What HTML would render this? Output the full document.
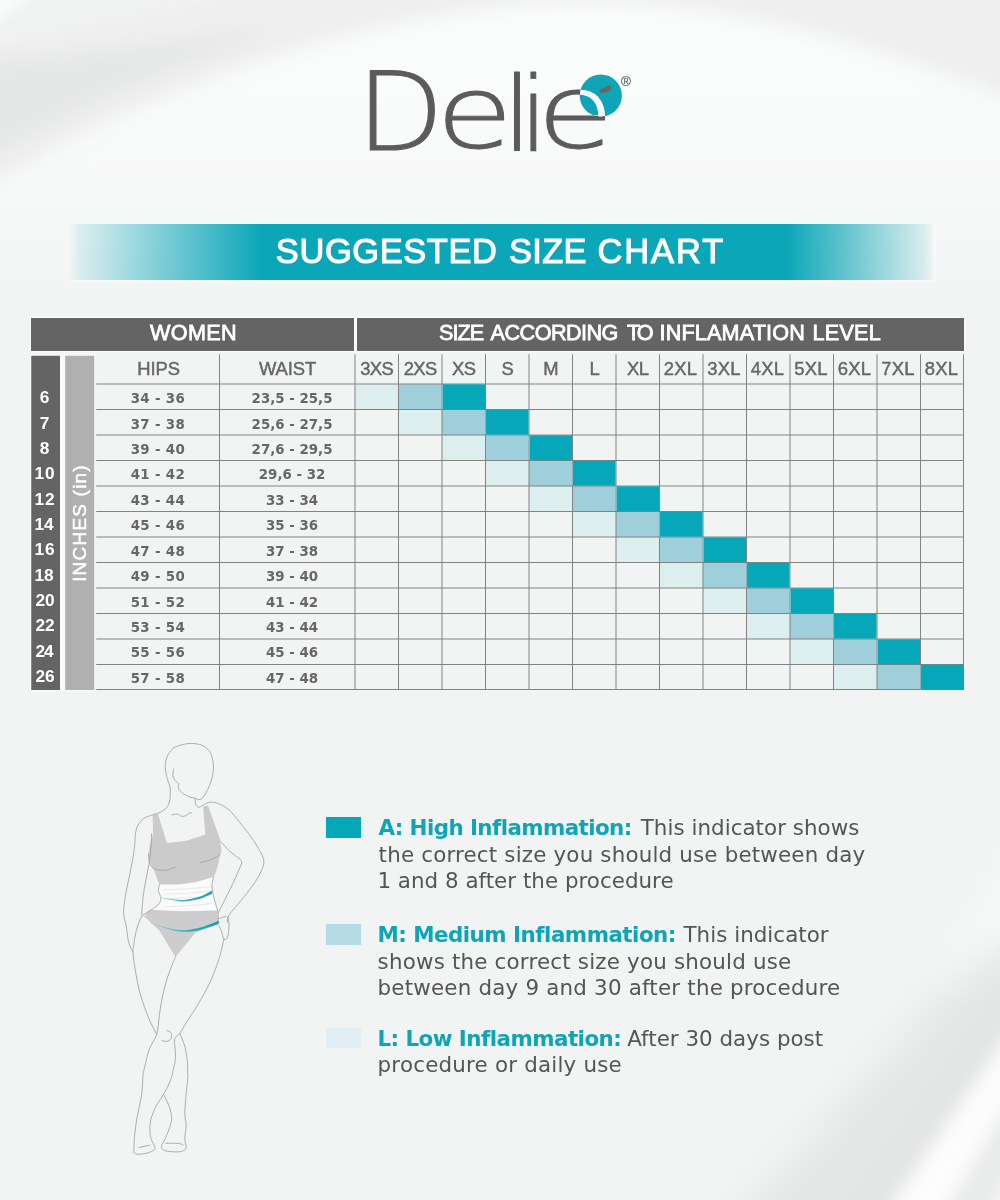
<!DOCTYPE html>
<html lang="en">
<head>
<meta charset="utf-8">
<title>Delie - Suggested Size Chart</title>
<meta name="viewport" content="width=1000">
<style>
*{box-sizing:border-box}
html,body{margin:0;padding:0;background:#f2f4f4}
body{width:1000px;height:1200px;overflow:hidden;font-family:"Liberation Sans",sans-serif;color:#676767}
.page{position:relative;width:1000px;height:1200px;overflow:hidden;background:#f2f4f4}
.abs,.page>*{position:absolute}
svg{display:block;overflow:visible}
/* text helper: the element's top is the BASELINE; line-height:0 centres the line box on top */
.t{position:absolute;white-space:nowrap;line-height:0;transform-origin:0 0}
.c{transform:translateX(-50%)}
.rot{position:absolute;white-space:nowrap;line-height:1;transform:translate(-50%,-50%) rotate(-90deg)}
.m{-webkit-text-stroke:.45px currentColor}
.sb{-webkit-text-stroke:.8px currentColor}
.xb{-webkit-text-stroke:1.1px currentColor}
.lib{font-family:"Liberation Sans",sans-serif}
.dv{font-family:"DejaVu Sans","Liberation Sans",sans-serif}
.b{font-weight:700}
.w{color:#fff}
.teal{color:#0fa4b6}
.banner{left:69px;top:223.5px;width:865px;height:56.5px;margin:0;font-weight:400;box-shadow:0 0 3px 1.5px rgba(255,255,255,.6)}
.bar{background:#646464;box-shadow:0 0 1.5px 1px rgba(255,255,255,.75)}
</style>
</head>
<body>
<main class="page">
<svg class="bg" style="left:0;top:0" width="1000" height="1200" viewBox="0 0 1000 1200" aria-hidden="true">
<defs>
<filter id="b4" x="-30%" y="-30%" width="160%" height="160%"><feGaussianBlur stdDeviation="4"/></filter>
<filter id="b8" x="-30%" y="-30%" width="160%" height="160%"><feGaussianBlur stdDeviation="9"/></filter>
<filter id="b16" x="-30%" y="-30%" width="160%" height="160%"><feGaussianBlur stdDeviation="18"/></filter>
<linearGradient id="dome" x1="0" y1="0" x2="0" y2="1"><stop offset="0" stop-color="#fbfcfc" stop-opacity="1"/><stop offset=".55" stop-color="#f9fafa" stop-opacity=".85"/><stop offset="1" stop-color="#f4f6f6" stop-opacity="0"/></linearGradient>
</defs>
<path d="M-30 60 L70 -30 L1030 -30 L1030 110 C860 40 700 -6 520 8 C300 30 120 110 -30 200Z" fill="#efefef" filter="url(#b8)"/>
<path d="M-30 200 C120 110 300 30 520 8 C700 -6 860 40 1030 110 L1030 330 L-30 330Z" fill="url(#dome)" filter="url(#b8)"/>
<path d="M-30 62 L-30 170 C70 112 170 66 290 26 C200 40 90 50 -30 62Z" fill="#e6e7e7" filter="url(#b8)"/>
<path d="M-30 52 C60 30 200 8 330 -30 L80 -30Z" fill="#f1f2f2" filter="url(#b4)" opacity=".8"/>
<path d="M-30 -30 L56 -30 L-30 50Z" fill="#f9fafa" filter="url(#b4)"/>
<path d="M1030 900 L1030 1010 L865 1240 L720 1240Z" fill="#e5e6e6" filter="url(#b16)"/>
<g filter="url(#b8)">
<path d="M1030 955 L1030 1003 L868 1240 L828 1240Z" fill="#e3e4e4"/>
<path d="M1030 1003 L1030 1066 L928 1240 L868 1240Z" fill="#fdfdfd"/>
<path d="M1030 1066 L1030 1128 L978 1240 L928 1240Z" fill="#e9eaea"/>
<path d="M1030 1128 L1030 1240 L978 1240Z" fill="#fafafa"/>
</g>
<path d="M1030 830 L1030 925 L935 985 Z" fill="#fafbfb" filter="url(#b16)" opacity=".8"/>
</svg>
<header class="brand" style="left:0;top:0;width:1000px;height:200px"><svg class="logo" style="position:absolute;left:0;top:0" width="1000" height="200" viewBox="0 0 1000 200" role="img" aria-label="Delie"><defs><radialGradient id="eg" gradientUnits="userSpaceOnUse" cx="600.8" cy="95.6" r="21.1" gradientTransform="matrix(0.79923 0 0 0.96963 -429.1061 -143.7478)"><stop offset="0" stop-color="#f6f8f8"/><stop offset=".985" stop-color="#f6f8f8"/><stop offset="1" stop-color="#5b5b5b"/></radialGradient></defs><circle cx="600.8" cy="95.6" r="21.1" fill="#10a4b7"/><g font-family="'DejaVu Sans',sans-serif" font-weight="200" font-size="100" stroke-width="0.95" stroke-linejoin="round"><text transform="matrix(1.1333 0 0 1.0860 356.46 149.68)" fill="#5b5b5b" stroke="#5b5b5b">D</text><text transform="matrix(1.2512 0 0 1.0210 435.9 148.27)" fill="#5b5b5b" stroke="#5b5b5b">e</text><text transform="matrix(1.0841 0 0 1.0400 502.33 151.01)" fill="#5b5b5b" stroke="#5b5b5b">l</text><text transform="matrix(1.0657 0 0 1.0348 518.94 150.71)" fill="#5b5b5b" stroke="#5b5b5b">i</text><text transform="matrix(1.2512 0 0 1.0313 536.9 148.25)" fill="url(#eg)" stroke="url(#eg)">e</text></g><rect x="599.7" y="87.2" width="12" height="4.6" rx="1.8" fill="#666" transform="rotate(-24 605.7 89.5)"/><text x="626" y="85.8" font-family="'Liberation Sans',sans-serif" font-size="13.5" fill="#6a6a6a" stroke="#6a6a6a" stroke-width=".25" text-anchor="middle">®</text></svg></header>
<h1 class="banner" style="background:linear-gradient(90deg,rgba(11,166,184,0) 0%,rgba(11,166,184,.1) 1.1%,#0ba6b8 22.3%,#0ba6b8 82.9%,rgba(11,166,184,.12) 98.9%,rgba(11,166,184,0) 100%)"><span class="t lib xb w" style="left:0;top:27.5px;font-size:34.4px"><span style="margin-left:206.85px;letter-spacing:0.64px">SUGGESTED</span> <span style="margin-left:1.97px;letter-spacing:0.33px">SIZE</span> <span style="margin-left:0.97px;letter-spacing:1.99px">CHART</span></span></h1>
<section class="chart" style="left:0;top:0;width:1000px;height:700px">
<div class="abs bar" style="left:31.25px;top:318.25px;width:322.25px;height:32.25px"><span class="t lib sb w" style="left:118.65px;top:14.25px;font-size:21.6px;letter-spacing:0.41px">WOMEN</span></div>
<div class="abs bar" style="left:356.75px;top:318.25px;width:607.25px;height:32.25px"><span class="t lib sb w" style="left:0;top:14.25px;font-size:21.6px"><span style="margin-left:82.25px;letter-spacing:-0.96px">SIZE</span> <span style="margin-left:1.46px;letter-spacing:-0.52px">ACCORDING</span> <span style="margin-left:3.03px;letter-spacing:-2.9px">TO</span> <span style="margin-left:2.9px;letter-spacing:0.16px">INFLAMATION</span> <span style="margin-left:1.44px;letter-spacing:0.3px">LEVEL</span></span></div>
<div class="abs" style="left:353.5px;top:318.25px;width:3.25px;height:32.25px;background:#fafbfb"></div>
<svg class="grid" style="left:0;top:0" width="1000" height="700" viewBox="0 0 1000 700" aria-hidden="true"><rect x="29.8" y="354.3" width="66" height="337.15" fill="#fafbfb" opacity=".8"/><rect x="31.25" y="355.75" width="28.75" height="334.25" fill="#646464"/><rect x="65.2" y="355.75" width="29.05" height="334.25" fill="#b0b0b0"/><rect x="355" y="384" width="43.5" height="25.5" fill="#dcefee"/><rect x="398.5" y="384" width="43.5" height="25.5" fill="#9ecfdb"/><rect x="398.5" y="409.5" width="43.5" height="25.5" fill="#dcefee"/><rect x="442" y="409.5" width="43.5" height="25.5" fill="#9ecfdb"/><rect x="442" y="435" width="43.5" height="25.5" fill="#dcefee"/><rect x="485.5" y="435" width="43.5" height="25.5" fill="#9ecfdb"/><rect x="485.5" y="460.5" width="43.5" height="25.5" fill="#dcefee"/><rect x="529" y="460.5" width="43.5" height="25.5" fill="#9ecfdb"/><rect x="529" y="486" width="43.5" height="25.5" fill="#dcefee"/><rect x="572.5" y="486" width="43.5" height="25.5" fill="#9ecfdb"/><rect x="572.5" y="511.5" width="43.5" height="25.5" fill="#dcefee"/><rect x="616" y="511.5" width="43.5" height="25.5" fill="#9ecfdb"/><rect x="616" y="537" width="43.5" height="25.5" fill="#dcefee"/><rect x="659.5" y="537" width="43.5" height="25.5" fill="#9ecfdb"/><rect x="659.5" y="562.5" width="43.5" height="25.5" fill="#dcefee"/><rect x="703" y="562.5" width="43.5" height="25.5" fill="#9ecfdb"/><rect x="703" y="588" width="43.5" height="25.5" fill="#dcefee"/><rect x="746.5" y="588" width="43.5" height="25.5" fill="#9ecfdb"/><rect x="746.5" y="613.5" width="43.5" height="25.5" fill="#dcefee"/><rect x="790" y="613.5" width="43.5" height="25.5" fill="#9ecfdb"/><rect x="790" y="639" width="43.5" height="25.5" fill="#dcefee"/><rect x="833.5" y="639" width="43.5" height="25.5" fill="#9ecfdb"/><rect x="833.5" y="664.5" width="43.5" height="25.5" fill="#dcefee"/><rect x="877" y="664.5" width="43.5" height="25.5" fill="#9ecfdb"/><g stroke="#828282" stroke-width="1" fill="none"><path d="M96.25 384H964M96.25 409.5H964M96.25 435H964M96.25 460.5H964M96.25 486H964M96.25 511.5H964M96.25 537H964M96.25 562.5H964M96.25 588H964M96.25 613.5H964M96.25 639H964M96.25 664.5H964M96.25 689.5H964M219.5 354.25V690M355 354.25V690M398.5 354.25V690M442 354.25V690M485.5 354.25V690M529 354.25V690M572.5 354.25V690M616 354.25V690M659.5 354.25V690M703 354.25V690M746.5 354.25V690M790 354.25V690M833.5 354.25V690M877 354.25V690M920.5 354.25V690M963.5 354.25V690"/></g><rect x="442.5" y="384.3" width="42.5" height="24.9" fill="#06a7b9"/><rect x="441.4" y="384.5" width="1.2" height="24.5" fill="#9ecfdb" opacity=".55"/><rect x="486" y="409.8" width="42.5" height="24.9" fill="#06a7b9"/><rect x="484.9" y="410" width="1.2" height="24.5" fill="#9ecfdb" opacity=".55"/><rect x="529.5" y="435.3" width="42.5" height="24.9" fill="#06a7b9"/><rect x="528.4" y="435.5" width="1.2" height="24.5" fill="#9ecfdb" opacity=".55"/><rect x="573" y="460.8" width="42.5" height="24.9" fill="#06a7b9"/><rect x="571.9" y="461" width="1.2" height="24.5" fill="#9ecfdb" opacity=".55"/><rect x="616.5" y="486.3" width="42.5" height="24.9" fill="#06a7b9"/><rect x="615.4" y="486.5" width="1.2" height="24.5" fill="#9ecfdb" opacity=".55"/><rect x="660" y="511.8" width="42.5" height="24.9" fill="#06a7b9"/><rect x="658.9" y="512" width="1.2" height="24.5" fill="#9ecfdb" opacity=".55"/><rect x="703.5" y="537.3" width="42.5" height="24.9" fill="#06a7b9"/><rect x="702.4" y="537.5" width="1.2" height="24.5" fill="#9ecfdb" opacity=".55"/><rect x="747" y="562.8" width="42.5" height="24.9" fill="#06a7b9"/><rect x="745.9" y="563" width="1.2" height="24.5" fill="#9ecfdb" opacity=".55"/><rect x="790.5" y="588.3" width="42.5" height="24.9" fill="#06a7b9"/><rect x="789.4" y="588.5" width="1.2" height="24.5" fill="#9ecfdb" opacity=".55"/><rect x="834" y="613.8" width="42.5" height="24.9" fill="#06a7b9"/><rect x="832.9" y="614" width="1.2" height="24.5" fill="#9ecfdb" opacity=".55"/><rect x="877.5" y="639.3" width="42.5" height="24.9" fill="#06a7b9"/><rect x="876.4" y="639.5" width="1.2" height="24.5" fill="#9ecfdb" opacity=".55"/><rect x="921" y="664.8" width="42.5" height="24.9" fill="#06a7b9"/><rect x="919.9" y="665" width="1.2" height="24.5" fill="#9ecfdb" opacity=".55"/></svg>
<div class="abs unit" style="left:65.5px;top:355.75px;width:28.75px;height:334.25px"><span class="rot lib m w" style="left:13.3px;top:167.25px;font-size:19px;letter-spacing:1.2px">INCHES (in)</span></div>
<div class="abs nums" style="left:31.25px;top:355.75px;width:28.75px;height:334.25px">
<span class="t lib b w c" style="left:13.35px;top:41.25px;font-size:17.3px;">6</span>
<span class="t lib b w c" style="left:13.35px;top:67.25px;font-size:17.3px;">7</span>
<span class="t lib b w c" style="left:13.35px;top:92.25px;font-size:17.3px;">8</span>
<span class="t lib b w" style="left:3.25px;top:117.25px;font-size:17.3px;letter-spacing:0.79px">10</span>
<span class="t lib b w" style="left:3.25px;top:143.25px;font-size:17.3px;letter-spacing:0.79px">12</span>
<span class="t lib b w" style="left:3.25px;top:168.25px;font-size:17.3px;letter-spacing:-0.21px">14</span>
<span class="t lib b w" style="left:3.25px;top:193.25px;font-size:17.3px;letter-spacing:0.79px">16</span>
<span class="t lib b w" style="left:3.25px;top:219.25px;font-size:17.3px;letter-spacing:-0.21px">18</span>
<span class="t lib b w" style="left:4.25px;top:244.25px;font-size:17.3px;letter-spacing:-0.21px">20</span>
<span class="t lib b w" style="left:4.25px;top:269.25px;font-size:17.3px;letter-spacing:-0.21px">22</span>
<span class="t lib b w" style="left:4.25px;top:295.25px;font-size:17.3px;letter-spacing:-1.21px">24</span>
<span class="t lib b w" style="left:4.25px;top:320.25px;font-size:17.3px;letter-spacing:-0.21px">26</span>
</div>
<div class="abs tbl" style="left:0;top:0;width:1000px;height:700px">
<div class="thead">
<span class="t lib m" style="left:137.2px;top:368.5px;font-size:18.4px;letter-spacing:-0.02px">HIPS</span>
<span class="t lib m" style="left:259px;top:368.5px;font-size:18.4px;letter-spacing:-0.08px">WAIST</span>
<span class="t lib m c" style="left:376.75px;top:368.5px;font-size:18.4px;letter-spacing:-0.55px;">3XS</span>
<span class="t lib m c" style="left:420.25px;top:368.5px;font-size:18.4px;letter-spacing:-0.55px;">2XS</span>
<span class="t lib m c" style="left:463.75px;top:368.5px;font-size:18.4px;letter-spacing:-0.55px;">XS</span>
<span class="t lib m c" style="left:507.25px;top:368.5px;font-size:18.4px;letter-spacing:-0.55px;">S</span>
<span class="t lib m c" style="left:550.75px;top:368.5px;font-size:18.4px;letter-spacing:-0.55px;">M</span>
<span class="t lib m c" style="left:594.25px;top:368.5px;font-size:18.4px;letter-spacing:-0.55px;">L</span>
<span class="t lib m c" style="left:637.75px;top:368.5px;font-size:18.4px;letter-spacing:-0.55px;">XL</span>
<span class="t lib m c" style="left:680.55px;top:368.5px;font-size:18.4px;letter-spacing:0.25px;">2XL</span>
<span class="t lib m c" style="left:724.05px;top:368.5px;font-size:18.4px;letter-spacing:0.25px;">3XL</span>
<span class="t lib m c" style="left:767.55px;top:368.5px;font-size:18.4px;letter-spacing:0.25px;">4XL</span>
<span class="t lib m c" style="left:811.05px;top:368.5px;font-size:18.4px;letter-spacing:0.25px;">5XL</span>
<span class="t lib m c" style="left:854.55px;top:368.5px;font-size:18.4px;letter-spacing:0.25px;">6XL</span>
<span class="t lib m c" style="left:898.05px;top:368.5px;font-size:18.4px;letter-spacing:0.25px;">7XL</span>
<span class="t lib m c" style="left:941.55px;top:368.5px;font-size:18.4px;letter-spacing:0.25px;">8XL</span>
</div>
<div class="tr">
<span class="t dv b c" style="left:157.88px;top:398.5px;font-size:13.4px;letter-spacing:0.3px;">34 - 36</span>
<span class="t dv b c" style="left:292.05px;top:398.5px;font-size:13.4px;">23,5 - 25,5</span>
</div>
<div class="tr">
<span class="t dv b c" style="left:157.88px;top:424.5px;font-size:13.4px;letter-spacing:0.3px;">37 - 38</span>
<span class="t dv b c" style="left:292.05px;top:424.5px;font-size:13.4px;">25,6 - 27,5</span>
</div>
<div class="tr">
<span class="t dv b c" style="left:157.88px;top:449.5px;font-size:13.4px;letter-spacing:0.3px;">39 - 40</span>
<span class="t dv b c" style="left:292.05px;top:449.5px;font-size:13.4px;">27,6 - 29,5</span>
</div>
<div class="tr">
<span class="t dv b c" style="left:157.88px;top:474.5px;font-size:13.4px;letter-spacing:0.3px;">41 - 42</span>
<span class="t dv b c" style="left:292.05px;top:474.5px;font-size:13.4px;">29,6 - 32</span>
</div>
<div class="tr">
<span class="t dv b c" style="left:157.88px;top:500.5px;font-size:13.4px;letter-spacing:0.3px;">43 - 44</span>
<span class="t dv b c" style="left:292.05px;top:500.5px;font-size:13.4px;">33 - 34</span>
</div>
<div class="tr">
<span class="t dv b c" style="left:157.88px;top:525.5px;font-size:13.4px;letter-spacing:0.3px;">45 - 46</span>
<span class="t dv b c" style="left:292.05px;top:525.5px;font-size:13.4px;">35 - 36</span>
</div>
<div class="tr">
<span class="t dv b c" style="left:157.88px;top:551.5px;font-size:13.4px;letter-spacing:0.3px;">47 - 48</span>
<span class="t dv b c" style="left:292.05px;top:551.5px;font-size:13.4px;">37 - 38</span>
</div>
<div class="tr">
<span class="t dv b c" style="left:157.88px;top:576.5px;font-size:13.4px;letter-spacing:0.3px;">49 - 50</span>
<span class="t dv b c" style="left:292.05px;top:576.5px;font-size:13.4px;">39 - 40</span>
</div>
<div class="tr">
<span class="t dv b c" style="left:157.88px;top:602.5px;font-size:13.4px;letter-spacing:0.3px;">51 - 52</span>
<span class="t dv b c" style="left:292.05px;top:602.5px;font-size:13.4px;">41 - 42</span>
</div>
<div class="tr">
<span class="t dv b c" style="left:157.88px;top:627.5px;font-size:13.4px;letter-spacing:0.3px;">53 - 54</span>
<span class="t dv b c" style="left:292.05px;top:627.5px;font-size:13.4px;">43 - 44</span>
</div>
<div class="tr">
<span class="t dv b c" style="left:157.88px;top:652.5px;font-size:13.4px;letter-spacing:0.3px;">55 - 56</span>
<span class="t dv b c" style="left:292.05px;top:652.5px;font-size:13.4px;">45 - 46</span>
</div>
<div class="tr">
<span class="t dv b c" style="left:157.88px;top:678.5px;font-size:13.4px;letter-spacing:0.3px;">57 - 58</span>
<span class="t dv b c" style="left:292.05px;top:678.5px;font-size:13.4px;">47 - 48</span>
</div>
</div>
</section>
<svg class="figure" style="left:0;top:0" width="1000" height="1200" viewBox="0 0 1000 1200"><path d="M159.3 884.6 L178 884.6 L195 882.22 L213.7 877.12 L212 884.6 L212.85 893.1 L215.4 903.3 L217.44 911.8 L148.25 910.44 L157.94 905 L161 898.2 L158.62 891.4Z" fill="#fbfbfb"/><path d="M152.5 814.9 L157.94 813.88 L166.95 842.95 L186.5 840.74 L205.2 834.45 L203.16 806.4 L207.92 805.38 L220.5 840.4 L221.35 850.6 L218.8 861.65 L216.25 871 L213.7 877.12 L195 882.22 L178 884.6 L159.3 884.6 L154.54 871.85 L150.29 863.35 L148.42 854 L150.12 843.8 L153.18 833.6Z" fill="#cbcbcb"/><path d="M149.44 909.86 L183.1 911.22 L217.1 910.54 L218.29 921.25 L195 933.15 L175.45 956.95 L159.3 930.6 L144 916.15Z" fill="#cdcdcd"/><path d="M163 889.7 Q188 889.7 212 886.5" fill="none" stroke="#e9e9e9" stroke-width="1"/><path d="M164 894.2 Q188 894.2 212 891" fill="none" stroke="#e9e9e9" stroke-width="1"/><path d="M163 898.7 Q188 898.7 212 895.5" fill="none" stroke="#e9e9e9" stroke-width="1"/><path d="M164 906.7 Q188 906.7 212 903.5" fill="none" stroke="#e9e9e9" stroke-width="1"/><g fill="none" stroke="#a4a4a4" stroke-width="0.9" stroke-linecap="round" stroke-linejoin="round"><path d="M170.35 787.7 C169.78 786 167.8 780.9 166.95 777.5 C166.1 774.1 165.25 770.7 165.25 767.3 C165.25 763.9 165.67 760.22 166.95 757.1 C168.22 753.98 170.49 750.64 172.9 748.6 C175.31 746.56 178.28 745.71 181.4 744.86 C184.52 744.01 188.2 743.44 191.6 743.5 C195 743.56 198.83 743.93 201.8 745.2 C204.78 746.48 207.61 748.6 209.45 751.15 C211.29 753.7 212.2 757.24 212.85 760.5 C213.5 763.76 213.64 767.3 213.36 770.7 C213.08 774.1 212.08 777.78 211.15 780.9 C210.21 784.02 208.88 786.99 207.75 789.4 C206.62 791.81 205.34 793.79 204.35 795.35 C203.36 796.91 202.79 798.04 201.8 798.75 C200.81 799.46 199.53 799.69 198.4 799.6 C197.27 799.51 196.42 798.66 195 798.24 C193.58 797.82 191.88 797.81 189.9 797.05 C187.92 796.28 185.03 795.15 183.1 793.65 C181.17 792.15 179.05 789.68 178.34 788.04 C177.63 786.4 179.33 784.98 178.85 783.79 C178.37 782.6 176.44 782.23 175.45 780.9 C174.46 779.57 173.18 777.78 172.9 775.8 C172.62 773.82 173.61 770.13 173.75 769"/><path d="M170.35 787.7 C170.26 789.68 170.41 796.34 169.84 799.6 C169.27 802.86 168.56 805.12 166.95 807.25 C165.33 809.38 162.56 811.08 160.15 812.35 C157.74 813.62 155.19 813.91 152.5 814.9 C149.81 815.89 146.41 816.6 144 818.3 C141.59 820 139.47 822.55 138.05 825.1 C136.63 827.65 136.07 830.2 135.5 833.6 C134.93 837 135.22 840.68 134.65 845.5 C134.08 850.32 133.09 856.83 132.1 862.5 C131.11 868.17 129.83 873.83 128.7 879.5 C127.57 885.17 126.15 890.83 125.3 896.5 C124.45 902.17 123.46 908.67 123.6 913.5 C123.74 918.33 125.3 920.67 126.15 925.5 C127 930.33 127.57 938.11 128.7 942.5 C129.83 946.89 132.24 950.29 132.95 951.85"/><path d="M195 798.24 C195.14 799.32 195.14 803.2 195.85 804.7 C196.56 806.2 197.69 807.39 199.25 807.25 C200.81 807.11 203.07 804.7 205.2 803.85 C207.32 803 209.73 802.15 212 802.15 C214.27 802.15 215.97 802.58 218.8 803.85 C221.63 805.12 225.6 806.82 229 809.8 C232.4 812.77 235.52 817.17 239.2 821.7 C242.88 826.23 247.7 832.18 251.1 837 C254.5 841.82 257.48 846.63 259.6 850.6 C261.73 854.57 263.57 857.4 263.85 860.8 C264.13 864.2 262.86 867.32 261.3 871 C259.74 874.68 257.33 878.65 254.5 882.9 C251.67 887.15 247.42 892.53 244.3 896.5 C241.18 900.47 238.35 903.58 235.8 906.7 C233.25 909.82 230.42 912.65 229 915.2 C227.58 917.75 227.58 920.87 227.3 922"/><path d="M172.05 814.9 C172.9 814.76 175.59 813.82 177.15 814.05 C178.71 814.28 179.98 815.98 181.4 816.26 C182.82 816.54 184.37 816.26 185.65 815.75 C186.92 815.24 188 813.68 189.05 813.2 C190.1 812.72 191.46 812.92 191.94 812.86"/><path d="M221.35 842.1 C222.62 843.52 226.31 848.05 229 850.6 C231.69 853.15 235.38 855.56 237.5 857.4 C239.62 859.24 241.47 859.67 241.75 861.65 C242.03 863.63 240.76 865.47 239.2 869.3 C237.64 873.12 234.67 879.78 232.4 884.6 C230.13 889.42 227.58 894.23 225.6 898.2 C223.62 902.17 221.69 905.99 220.5 908.4 C219.31 910.81 218.8 911.94 218.46 912.65"/><path d="M151.65 833.6 C151.45 837 151.03 848.33 150.46 854 C149.89 859.67 149.04 863.07 148.25 867.6 C147.46 872.13 146.55 876.38 145.7 881.2 C144.85 886.02 143.83 890.83 143.15 896.5 C142.47 902.17 141.88 912.08 141.62 915.2"/><path d="M148.42 854 C148.67 855.7 148.7 861.65 149.95 864.2 C151.2 866.75 153.21 868.31 155.9 869.3 C158.59 870.29 162.7 870.57 166.1 870.15 C169.5 869.73 174.6 867.32 176.3 866.75"/><path d="M200.95 862.5 C202.22 862.16 206.19 861.31 208.6 860.46 C211.01 859.61 213.47 858.48 215.4 857.4 C217.33 856.32 219.37 854.57 220.16 854"/><path d="M159.3 884.6 C159.19 885.73 158.34 889.13 158.62 891.4 C158.9 893.67 161.11 895.93 161 898.2 C160.89 900.47 160.06 902.73 157.94 905 C155.81 907.27 151 909.8 148.25 911.8 C145.5 913.8 143.43 913.87 141.45 917 C139.47 920.13 137.62 926.07 136.35 930.6 C135.07 935.13 134.37 940.66 133.8 944.2 C133.23 947.74 132.67 947.32 132.95 951.85 C133.23 956.38 134.22 964.17 135.5 971.4 C136.78 978.62 138.33 987.27 140.6 995.2 C142.87 1003.13 146.41 1012.48 149.1 1019 C151.79 1025.52 155.47 1031.75 156.75 1034.3"/><path d="M213.7 877.12 C213.42 878.37 212.14 881.94 212 884.6 C211.86 887.26 212.28 889.98 212.85 893.1 C213.42 896.22 214.58 900.18 215.4 903.3 C216.22 906.42 217.3 908.81 217.78 911.8 C218.26 914.79 218.2 919.67 218.29 921.25"/><path d="M218.8 918.7 C220.22 918.42 225.6 915.58 227.3 917 C229 918.42 229 923.8 229 927.2 C229 930.6 228.15 935.42 227.3 937.4 C226.45 939.38 224.89 940.23 223.9 939.1 C222.91 937.97 222.2 932.87 221.35 930.6 C220.5 928.33 219.23 926.35 218.8 925.5"/><path d="M223.9 939.1 C223.05 942.5 221.07 952.42 218.8 959.5 C216.53 966.58 213.7 974.23 210.3 981.6 C206.9 988.97 202.37 996.9 198.4 1003.7 C194.43 1010.5 189.62 1017.44 186.5 1022.4 C183.38 1027.36 181.68 1030.62 179.7 1033.45 C177.72 1036.28 175.31 1036.14 174.6 1039.4 C173.89 1042.66 175.39 1049.03 175.45 1053 C175.51 1056.97 175.14 1061.12 174.94 1063.2 C174.74 1065.28 175.02 1062.57 174.26 1065.5 C173.5 1068.43 172.13 1075.98 170.35 1080.8 C168.56 1085.62 165.96 1090.15 163.55 1094.4 C161.14 1098.65 158.03 1102.05 155.9 1106.3 C153.78 1110.55 151.79 1115.65 150.8 1119.9 C149.81 1124.15 149.81 1128.4 149.95 1131.8 C150.09 1135.2 150.88 1137.89 151.65 1140.3 C152.42 1142.71 154.12 1144.69 154.54 1146.25 C154.96 1147.81 155.39 1148.52 154.2 1149.65 C153.01 1150.78 150.23 1152.28 147.4 1153.05 C144.57 1153.82 139.47 1154.38 137.2 1154.24 C134.93 1154.1 134.37 1152.54 133.8 1152.2"/><path d="M175.45 956.95 C174.17 960.21 169.93 970.12 167.8 976.5 C165.68 982.88 164.12 988.68 162.7 995.2 C161.28 1001.72 160.29 1009.08 159.3 1015.6 C158.31 1022.12 158.45 1028.63 156.75 1034.3 C155.05 1039.97 151.22 1043.65 149.1 1049.6 C146.97 1055.55 144.99 1065.93 144 1070 C143.01 1074.07 143.58 1069.65 143.15 1074 C142.72 1078.35 142.44 1089.02 141.45 1096.1 C140.46 1103.18 138.33 1109.98 137.2 1116.5 C136.07 1123.02 135.22 1129.25 134.65 1135.2 C134.08 1141.15 133.94 1149.37 133.8 1152.2"/><path d="M179.7 1033.45 C180.55 1035.58 183.53 1041.53 184.8 1046.2 C186.08 1050.88 186.87 1056.97 187.35 1061.5 C187.83 1066.03 187.6 1070.75 187.69 1073.4 C187.78 1076.05 188.2 1073.05 187.86 1077.4 C187.52 1081.75 186.16 1093.27 185.65 1099.5 C185.14 1105.73 184.72 1110.55 184.8 1114.8 C184.89 1119.05 186.16 1121.03 186.16 1125 C186.16 1128.97 184.8 1134.92 184.8 1138.6 C184.8 1142.28 186.3 1145.12 186.16 1147.1 C186.02 1149.08 185.31 1149.71 183.95 1150.5 C182.59 1151.29 180.69 1151.72 178 1151.86 C175.31 1152 170.29 1151.72 167.8 1151.35 C165.31 1150.98 164.12 1150.5 163.04 1149.65 C161.96 1148.8 161.11 1147.81 161.34 1146.25 C161.57 1144.69 163.18 1142.99 164.4 1140.3 C165.62 1137.61 167.46 1133.5 168.65 1130.1 C169.84 1126.7 171.26 1123.3 171.54 1119.9 C171.82 1116.5 171.12 1112.82 170.35 1109.7 C169.58 1106.58 168.08 1103.75 166.95 1101.2 C165.82 1098.65 164.12 1095.53 163.55 1094.4"/><path d="M139.24 1147.44 L149.95 1145.06"/><path d="M166.1 1143.36 C168.08 1143.36 175.17 1143.08 178 1143.36 C180.83 1143.64 182.25 1144.78 183.1 1145.06"/><path d="M166.95 1030.56 C167.6 1030.9 170.09 1031.55 170.86 1032.6 C171.62 1033.65 171.77 1035.57 171.54 1036.85 C171.31 1038.12 170.55 1039.48 169.5 1040.25 C168.45 1041.02 166.53 1041.41 165.25 1041.44 C163.97 1041.47 162.42 1040.59 161.85 1040.42"/></g><defs><linearGradient id="tg" x1="0" y1="0" x2="1" y2="0"><stop offset="0" stop-color="#9fd6dc"/><stop offset=".45" stop-color="#3fb0bf"/><stop offset="1" stop-color="#12a1b3"/></linearGradient></defs><path d="M161 897.61 C164.4 898.02 175.17 900.14 181.4 900.05 C187.63 899.96 193.3 898.62 198.4 897.05 C203.5 895.48 209.73 891.72 212 890.65 L212 893.85 C209.73 894.77 203.5 898.08 198.4 899.35 C193.3 900.62 187.63 901.66 181.4 901.45 C175.17 901.24 164.4 898.67 161 898.11Z" fill="url(#tg)"/><path d="M150.8 923.21 C155.33 924.33 170.07 929.09 178 929.9 C185.93 930.71 191.6 929.6 198.4 928.09 C205.2 926.58 215.4 922.05 218.8 920.84 L218.8 924.04 C215.4 925.1 205.2 929.18 198.4 930.39 C191.6 931.6 185.93 932.41 178 931.3 C170.07 930.19 155.33 924.98 150.8 923.71Z" fill="url(#tg)"/></svg>
<section class="legend" style="left:0;top:0;width:1000px;height:1200px">
<div class="abs" style="left:325.5px;top:816.5px;width:35px;height:21.3px;background:#06a7b9"></div>
<div class="abs" style="left:325.5px;top:924px;width:35px;height:21px;background:#b5dbe5"></div>
<div class="abs" style="left:325.5px;top:1027.5px;width:35px;height:20.5px;background:#e1eef4"></div>
<p class="t dv" style="left:0;top:827.5px;font-size:21.4px;margin:0;color:#555"><b class="teal" style="margin-left:378.4px;letter-spacing:-0.58px">A: High Inflammation:</b> <span style="margin-left:2.22px;letter-spacing:0.04px">This indicator shows</span></p>
<p class="t dv" style="left:0;top:854.5px;font-size:21.4px;margin:0;color:#555"><span style="margin-left:378.6px;letter-spacing:0.18px">the correct size you should use between day</span></p>
<p class="t dv" style="left:0;top:880.5px;font-size:21.4px;margin:0;color:#555"><span style="margin-left:377.4px;letter-spacing:0.02px">1 and 8 after the procedure</span></p>
<p class="t dv" style="left:0;top:934.5px;font-size:21.4px;margin:0;color:#555"><b class="teal" style="margin-left:377.4px;letter-spacing:-0.5px">M: Medium Inflammation:</b> <span style="margin-left:0.75px;letter-spacing:0.04px">This indicator</span></p>
<p class="t dv" style="left:0;top:961.5px;font-size:21.4px;margin:0;color:#555"><span style="margin-left:377.6px;letter-spacing:0.19px">shows the correct size you should use</span></p>
<p class="t dv" style="left:0;top:987.5px;font-size:21.4px;margin:0;color:#555"><span style="margin-left:377.6px;letter-spacing:0.2px">between day 9 and 30 after the procedure</span></p>
<p class="t dv" style="left:0;top:1038.5px;font-size:21.4px;margin:0;color:#555"><b class="teal" style="margin-left:377.4px;letter-spacing:-0.53px">L: Low Inflammation:</b> <span style="margin-left:-0.93px;letter-spacing:0.02px">After 30 days post</span></p>
<p class="t dv" style="left:0;top:1064.5px;font-size:21.4px;margin:0;color:#555"><span style="margin-left:377.6px;letter-spacing:0.2px">procedure or daily use</span></p>
</section>
</main>
</body>
</html>
